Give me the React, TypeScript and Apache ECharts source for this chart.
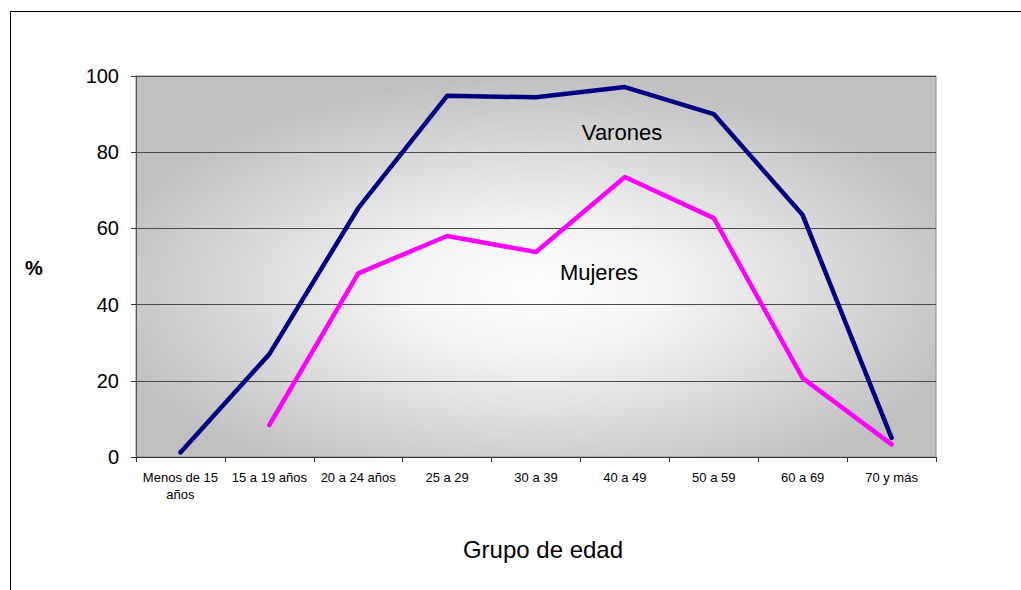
import React, { useEffect, useRef } from "react";
import * as echarts from "echarts";

const categories = [
  "Menos de 15\naños",
  "15 a 19 años",
  "20 a 24 años",
  "25 a 29",
  "30 a 39",
  "40 a 49",
  "50 a 59",
  "60 a 69",
  "70 y más",
];
const varones = [1.2, 27, 65.3, 94.8, 94.4, 97.1, 90, 63.5, 5];
const mujeres = [null, 8.4, 48.2, 58, 53.8, 73.5, 62.7, 20.7, 3.3];
const yTicks = [0, 20, 40, 60, 80, 100];

const FONT = "'Liberation Sans', Arial, sans-serif";

export default function App() {
  const ref = useRef<HTMLDivElement>(null);
  useEffect(() => {
    if (!ref.current) return;
    const chart = echarts.init(ref.current, undefined, { renderer: "svg" });
    const plotLeft = 136;
    const plotTop = 76;
    const plotW = 800;
    const plotH = 381;
    chart.setOption({
      animation: false,
      backgroundColor: "#ffffff",
      textStyle: { fontFamily: FONT },
      grid: {
        left: plotLeft,
        right: 1021 - plotLeft - plotW,
        top: plotTop,
        bottom: 590 - plotTop - plotH,
        show: true,
        borderColor: "#8a8a8a",
        borderWidth: 1,
        backgroundColor: "transparent",
      },
      xAxis: {
        type: "category",
        data: categories,
        boundaryGap: true,
        name: "Grupo de edad",
        nameLocation: "middle",
        nameGap: 80,
        nameTextStyle: { fontSize: 24, color: "#000", fontFamily: FONT, padding: [0, 0, 0, 14] },
        axisLine: { show: true, lineStyle: { color: "#333", width: 1 } },
        axisTick: { show: true, length: 5, lineStyle: { color: "#333" }, alignWithLabel: false },
        axisLabel: {
          interval: 0,
          fontSize: 13,
          color: "#000",
          margin: 12,
          lineHeight: 17,
          fontFamily: FONT,
        },
        splitLine: { show: false },
      },
      yAxis: {
        type: "value",
        min: yTicks[0],
        max: yTicks[yTicks.length - 1],
        interval: 20,
        axisLine: { show: true, lineStyle: { color: "#555", width: 1 } },
        axisTick: { show: true, length: 5, lineStyle: { color: "#333" } },
        axisLabel: { fontSize: 20, color: "#000", margin: 17, fontFamily: FONT },
        splitLine: { show: true, lineStyle: { color: "#4a4a4a", width: 1 } },
      },
      series: [
        {
          name: "Varones",
          type: "line",
          data: varones,
          symbol: "none",
          z: 3,
          lineStyle: { color: "#000080", width: 4.5, cap: "round", join: "round" },
          itemStyle: { color: "#000080" },
        },
        {
          name: "Mujeres",
          type: "line",
          data: mujeres,
          symbol: "none",
          z: 3,
          connectNulls: false,
          lineStyle: { color: "#ff00ff", width: 4.5, cap: "round", join: "round" },
          itemStyle: { color: "#ff00ff" },
        },
      ],
      graphic: [
        {
          type: "rect",
          x: plotLeft,
          y: plotTop,
          scaleX: plotW / plotH,
          scaleY: 1,
          shape: { x: 0, y: 0, width: plotH, height: plotH },
          style: {
            fill: new echarts.graphic.RadialGradient(0.5, 0.56, 0.56, [
              { offset: 0, color: "#ffffff" },
              { offset: 0.3, color: "#f4f4f4" },
              { offset: 1, color: "#c0c0c0" },
            ]),
            stroke: "none",
          },
          silent: true,
          z: -1,
        },
        {
          type: "rect",
          shape: { x: 10.5, y: 11.5, width: 1030, height: 600 },
          style: { fill: "none", stroke: "#000", lineWidth: 1 },
          silent: true,
          z: -2,
        },
        {
          type: "text",
          x: 34,
          y: 268,
          style: {
            text: "%",
            fontSize: 20,
            fontWeight: "bold",
            fill: "#000",
            fontFamily: FONT,
            align: "center",
            verticalAlign: "middle",
          },
        },
        {
          type: "text",
          x: 622,
          y: 132,
          z: 10,
          style: {
            text: "Varones",
            fontSize: 22,
            fill: "#000",
            fontFamily: FONT,
            align: "center",
            verticalAlign: "middle",
          },
        },
        {
          type: "text",
          x: 599,
          y: 272,
          z: 10,
          style: {
            text: "Mujeres",
            fontSize: 22,
            fill: "#000",
            fontFamily: FONT,
            align: "center",
            verticalAlign: "middle",
          },
        },
      ],
    });
    return () => chart.dispose();
  }, []);
  return (
    <div
      ref={ref}
      style={{ position: "fixed", left: 0, top: 0, width: 1021, height: 590 }}
    />
  );
}
